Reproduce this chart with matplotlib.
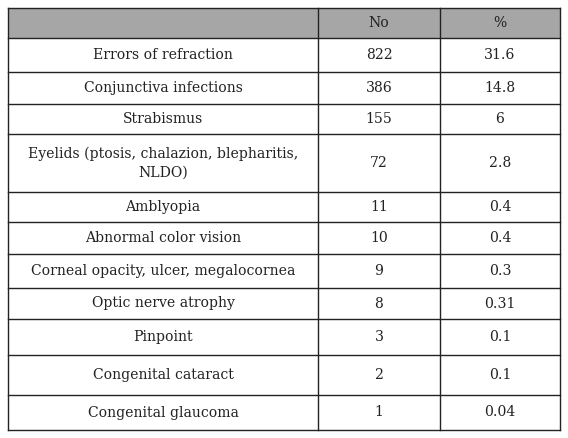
import matplotlib.pyplot as plt

header = ['', 'No', '%']
conditions = ['Errors of refraction', 'Conjunctiva infections', 'Strabismus',
              'Eyelids (ptosis, chalazion, blepharitis,\nNLDO)', 'Amblyopia',
              'Abnormal color vision', 'Corneal opacity, ulcer, megalocornea',
              'Optic nerve atrophy', 'Pinpoint', 'Congenital cataract',
              'Congenital glaucoma']
counts = ['822', '386', '155', '72', '11', '10', '9', '8', '3', '2', '1']
percents = ['31.6', '14.8', '6', '2.8', '0.4', '0.4', '0.3', '0.31', '0.1', '0.1', '0.04']

# layout in pixels
row_lines = [8, 38, 72, 104, 134, 192, 222, 254, 288, 319, 355, 395, 430]
col_lines = [8, 318, 440, 560]

fig = plt.figure(figsize=(5.68, 4.38), dpi=100)
ax = fig.add_axes([0, 0, 1, 1])
ax.set_xlim(0, 568)
ax.set_ylim(438, 0)
ax.axis('off')

ax.add_patch(plt.Rectangle((col_lines[0], row_lines[0]), col_lines[-1] - col_lines[0],
                           row_lines[1] - row_lines[0], color='#a6a6a6', lw=0))
for y in row_lines:
    ax.plot([col_lines[0], col_lines[-1]], [y, y], color='#222222', lw=1)
for x in col_lines:
    ax.plot([x, x], [row_lines[0], row_lines[-1]], color='#222222', lw=1)

font = dict(family='DejaVu Serif', fontsize=10.1, color='#222222', ha='center', va='center')
rows = [header] + [[c, n, p] for c, n, p in zip(conditions, counts, percents)]
for i, row in enumerate(rows):
    yc = (row_lines[i] + row_lines[i + 1]) / 2
    for j, val in enumerate(row):
        xc = (col_lines[j] + col_lines[j + 1]) / 2
        ax.text(xc, yc, val, linespacing=1.45, **font)

fig.savefig('out.png', dpi=100)
